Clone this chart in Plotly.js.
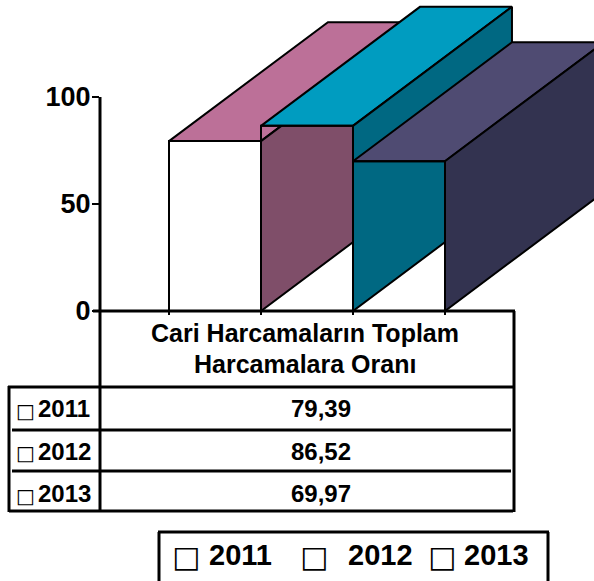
<!DOCTYPE html>
<html>
<head>
<meta charset="utf-8">
<script src="https://cdn.plot.ly/plotly-3.0.1.min.js"></script>
<style>html,body{margin:0;padding:0;background:#fff}#chart{width:594px;height:581px}</style>
</head>
<body>
<div id="chart"></div>
<script>
const years = ['2011', '2012', '2013'];
const values = [79.39, 86.52, 69.97];
const valueLabels = ['79,39', '86,52', '69,97'];
const headerLines = ['Cari Harcamaların Toplam', 'Harcamalara Oranı'];
const yTicks = [0, 50, 100];
const topColors = ['#BC7098', '#009CC0', '#4F4B72'];
const sideColors = ['#7F4E69', '#006882', '#333350'];

const W = 594, H = 581;
const FONT = '"Liberation Sans", Arial, sans-serif';
const px = v => v / W, py = v => 1 - v / H;
const depthX = 1.728, depthY = 55.6;

const traces = [];
function poly(xs, ys, fill, name) {
  traces.push({
    x: [...xs, xs[0]], y: [...ys, ys[0]], mode: 'lines', name: name,
    fill: fill ? 'toself' : 'none', fillcolor: fill || undefined,
    line: {color: '#000', width: 2}, showlegend: false, hoverinfo: 'skip'
  });
}
values.forEach((v, i) => {
  const l = i, r = i + 1;
  poly([l, r, r + depthX, l + depthX], [v, v, v + depthY, v + depthY], topColors[i], years[i] + ' top');
  poly([r, r, r + depthX, r + depthX], [0, v, v + depthY, depthY], sideColors[i], years[i] + ' side');
  poly([l, r, r, l], [0, 0, v, v], null, years[i] + ' front');
});

function hLine(x0, x1, y, w) {
  return {type: 'line', xref: 'paper', yref: 'paper', x0: px(x0), x1: px(x1), y0: py(y), y1: py(y), line: {color: '#000', width: w}};
}
function vLine(x, y0, y1, w) {
  return {type: 'line', xref: 'paper', yref: 'paper', x0: px(x), x1: px(x), y0: py(y0), y1: py(y1), line: {color: '#000', width: w}};
}
const shapes = [
  {type: 'line', xref: 'paper', yref: 'y', x0: px(100), x1: px(100), y0: 0, y1: 100, line: {color: '#000', width: 3}},
  hLine(93, 515, 311, 3),
  vLine(100, 311, 512, 3),
  vLine(514, 311, 512, 3),
  vLine(9, 386, 512, 3),
  hLine(8, 515, 387, 3),
  hLine(12, 511, 430, 3),
  hLine(12, 511, 471, 3),
  hLine(9, 513, 511, 3),
  hLine(158, 549, 532, 3),
  vLine(159, 532, 590, 3),
  vLine(548, 532, 590, 3)
];

function text(t, cx, cy, size, family, bold) {
  return {
    xref: 'paper', yref: 'paper', x: px(cx), y: py(cy), xanchor: 'center', yanchor: 'middle',
    text: bold === false ? t : '<b>' + t + '</b>', showarrow: false,
    font: {family: family || FONT, size: size, color: '#000'}
  };
}
const SQ = '"DejaVu Sans"';
const rowY = [409, 451, 494];
const annotations = [
  text(headerLines[0], 305, 333, 25),
  text(headerLines[1], 305, 364, 25)
];
years.forEach((y, i) => {
  annotations.push(text('□', 25, rowY[i] + 2, 20, SQ, false));
  annotations.push(text(y, 64, rowY[i], 24));
  annotations.push(text(valueLabels[i], 321, rowY[i], 24));
});
const legSq = [186, 314, 442], legTx = [240, 380, 496];
years.forEach((y, i) => {
  annotations.push(text('□', legSq[i], 556, 30, SQ, false));
  annotations.push(text(y, legTx[i], 555, 29));
});

const layout = {
  width: W, height: H, margin: {l: 0, r: 0, t: 0, b: 0},
  paper_bgcolor: '#fff', plot_bgcolor: 'rgba(0,0,0,0)', showlegend: false,
  xaxis: {
    domain: [100 / W, 1], range: [-0.75, 4.6196], showgrid: false, zeroline: false,
    showline: false, tickmode: 'array', tickvals: [0, 1, 2, 3], ticks: 'outside', ticklen: 3,
    tickwidth: 1.5, tickcolor: '#000', showticklabels: false, fixedrange: true
  },
  yaxis: {
    domain: [(H - 311) / H, 1], range: [0, 145.33], showgrid: false, zeroline: false,
    showline: false, tickmode: 'array', tickvals: yTicks, ticktext: yTicks.map(String),
    ticks: 'outside', ticklen: 7, tickwidth: 2.5, tickcolor: '#000', fixedrange: true, ticklabelstandoff: -4,
    tickfont: {family: FONT, size: 27, color: '#000', weight: 'bold'}
  },
  shapes: shapes, annotations: annotations
};
Plotly.newPlot('chart', traces, layout, {displayModeBar: false, staticPlot: true});
</script>
</body>
</html>
